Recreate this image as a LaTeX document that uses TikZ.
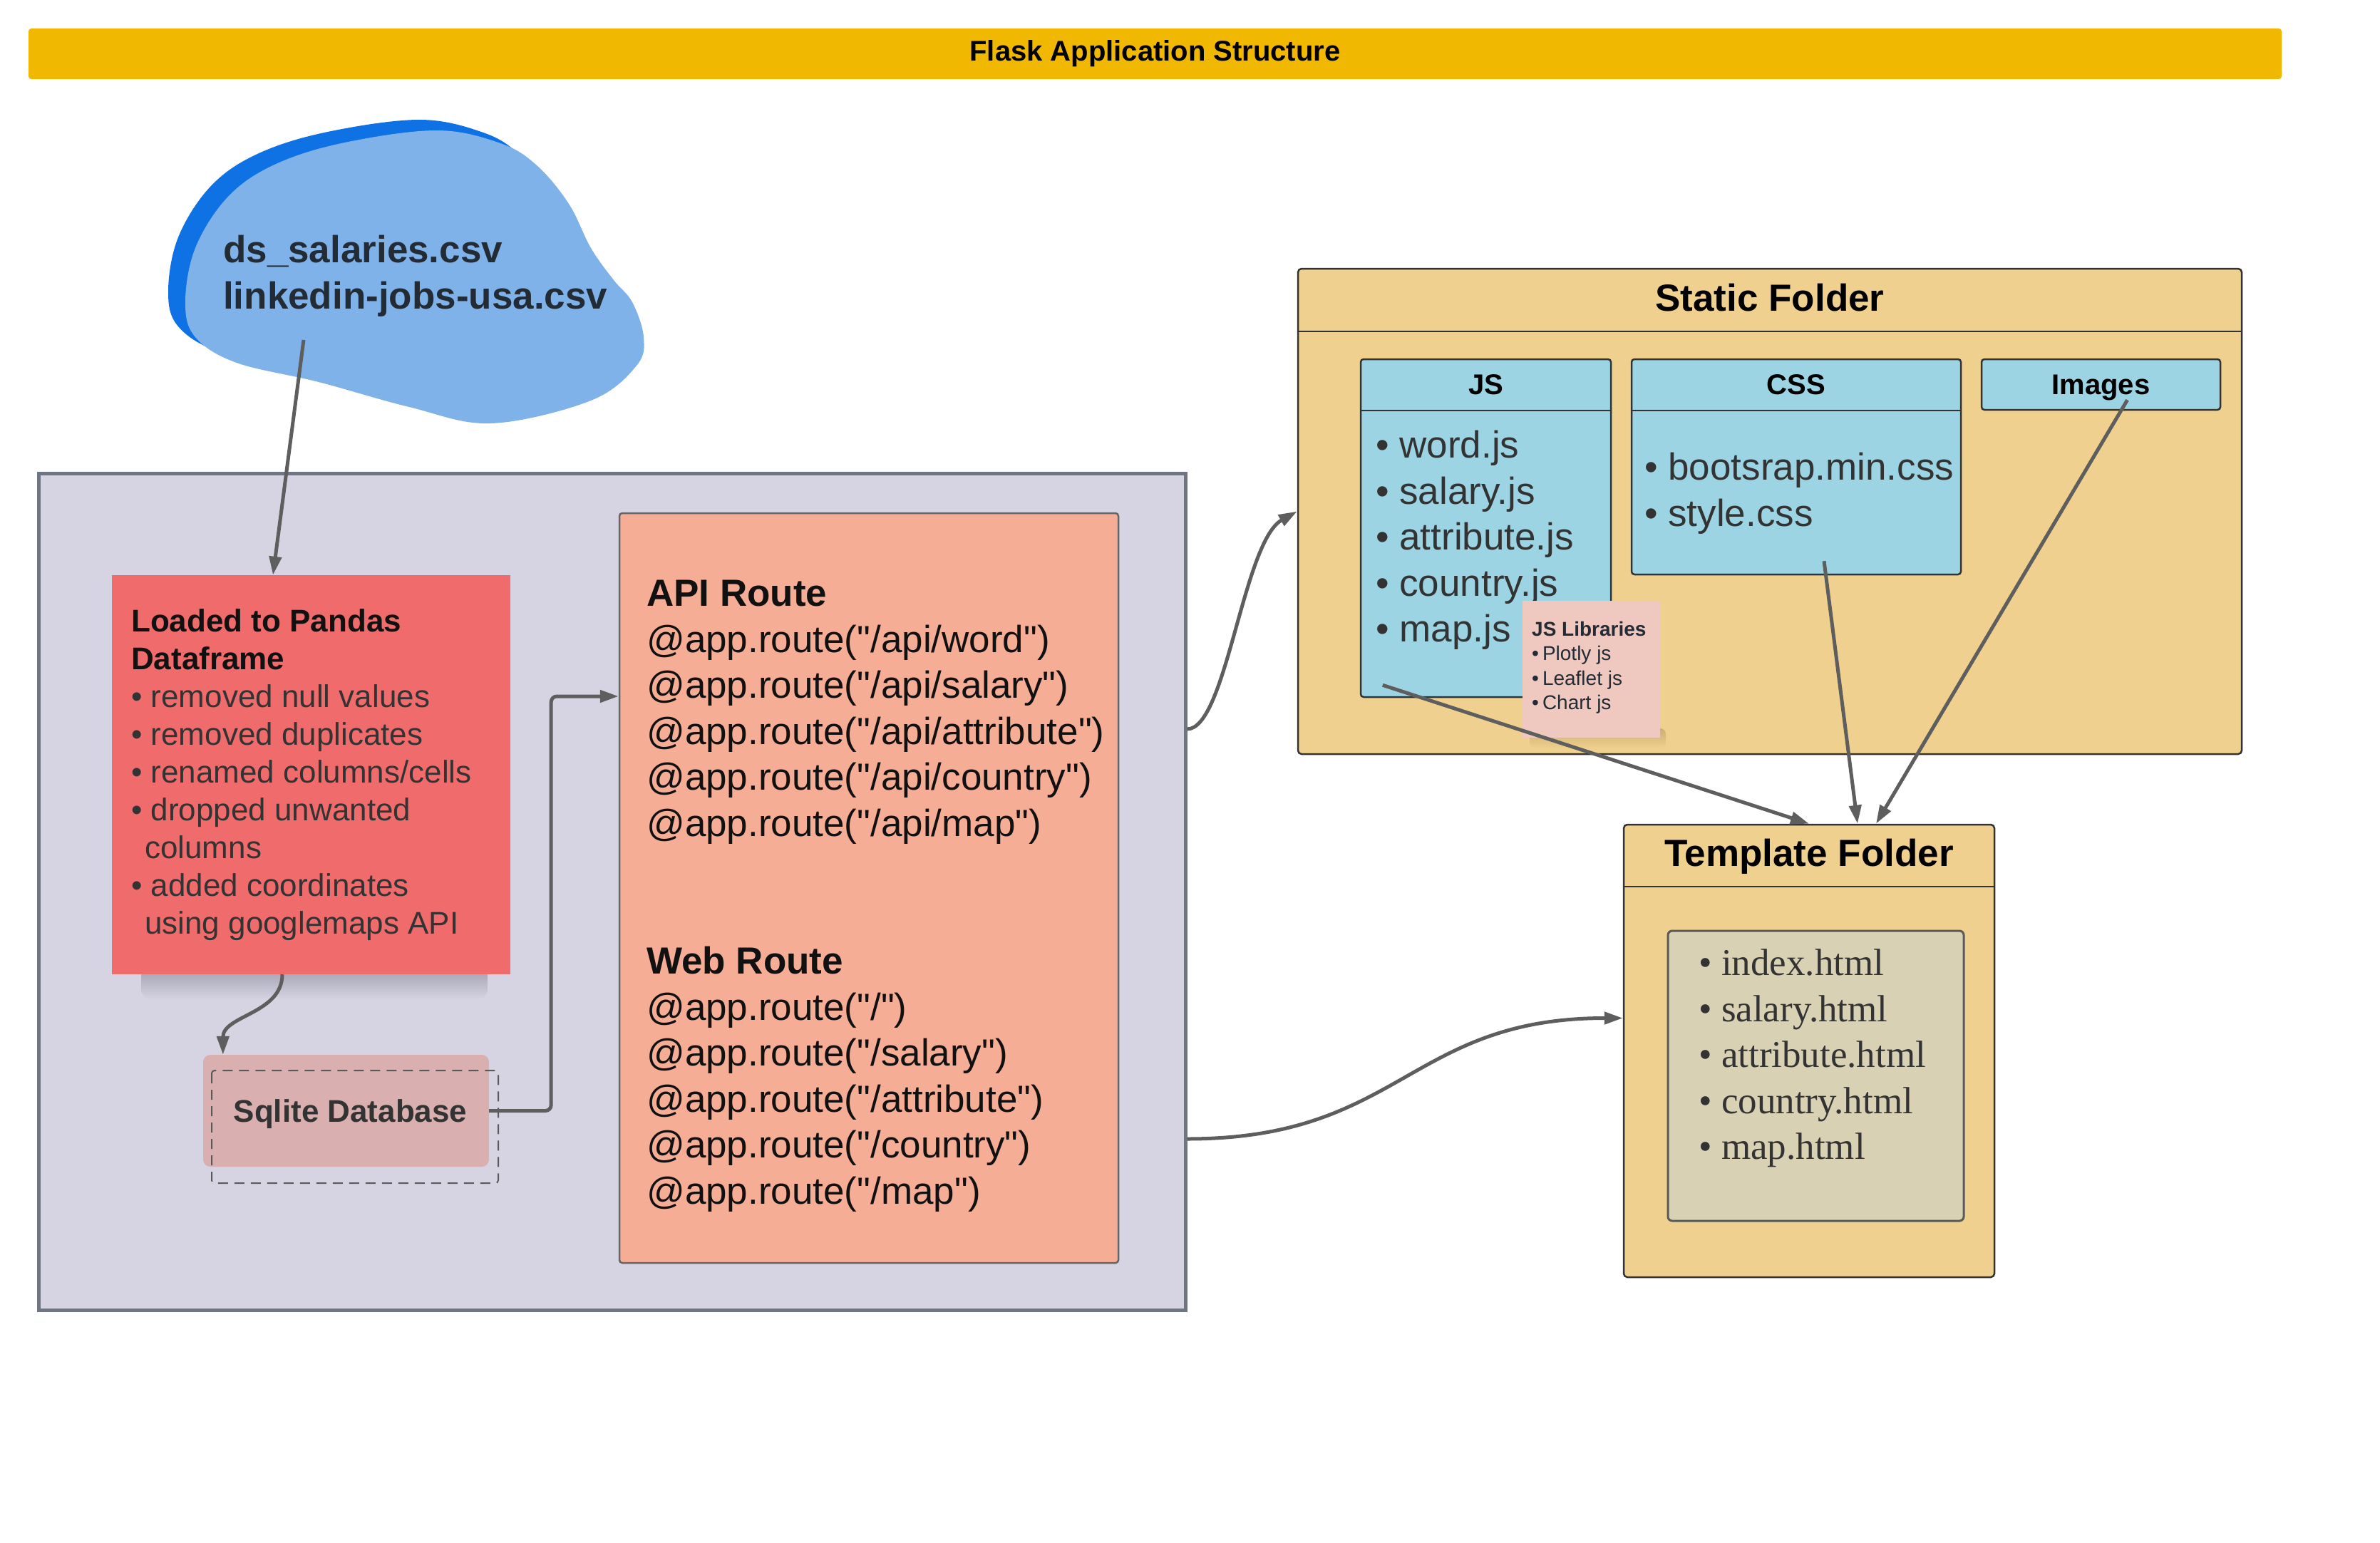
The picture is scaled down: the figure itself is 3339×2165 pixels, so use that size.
\documentclass[tikz,border=0pt]{standalone}
\usepackage{fontspec}
\setmainfont{Liberation Sans}
\newfontfamily\htmlfont{Liberation Serif}
\usetikzlibrary{arrows.meta}

\definecolor{barcol}{HTML}{F0B800}
\definecolor{bloblight}{HTML}{80B2EA}
\definecolor{blobdark}{HTML}{0E72E4}
\definecolor{blobtext}{HTML}{232B35}
\definecolor{appfill}{HTML}{D6D4E3}
\definecolor{appedge}{HTML}{6F7581}
\definecolor{shadowcol}{HTML}{9D9CAB}
\definecolor{pandasfill}{HTML}{F06C6C}
\definecolor{sqlitefill}{HTML}{D9AFB0}
\definecolor{dashcol}{HTML}{5A5A5A}
\definecolor{apifill}{HTML}{F6AD96}
\definecolor{apiedge}{HTML}{666666}
\definecolor{folderfill}{HTML}{EFD08E}
\definecolor{folderedge}{HTML}{333333}
\definecolor{subfill}{HTML}{9CD4E4}
\definecolor{notefill}{HTML}{EFC8BF}
\definecolor{noteshadow}{HTML}{CDAE72}
\definecolor{innerfill}{HTML}{D9D1B4}
\definecolor{inneredge}{HTML}{5A5A5A}
\definecolor{bodytext}{HTML}{333333}
\definecolor{headtext}{HTML}{111111}
\definecolor{conncol}{HTML}{5E5E5E}

\def\fsBig{\fontsize{53}{64.5}\selectfont}
\def\fsMid{\fontsize{44}{53}\selectfont}
\def\fsHead{\fontsize{40}{48}\selectfont}
\def\fsSmall{\fontsize{28}{34.5}\selectfont}
\def\q{\textquotedbl}

\begin{document}
\begin{tikzpicture}[x=1pt, y=-1pt,
    box/.style={inner sep=0pt, anchor=center},
    lbl/.style={inner sep=0pt, anchor=north west, align=left},
    conn/.style={draw=conncol, line width=5pt, -{Triangle[length=26pt,width=17pt]}}]
      \fill[white] (0,0) rectangle (3339,2165);
      \useasboundingbox (0,0) rectangle (3339,2165);

      \node[box, fill=barcol, rounded corners=4pt, minimum width=3161, minimum height=71, font=\fsHead\bfseries] (title) at (1620.5,75.5) {Flask Application Structure};

      \fill[blobdark, shift={(-24,-15)}] plot[smooth cycle, tension=0.6] coordinates {(612,183) (702,201) (753,232) (798,286) (829,348) (861,393) (887,424) (903,473) (893,513) (829,562) (689,594) (574,571) (447,536) (332,509) (274,473) (260,424) (274,348) (319,277) (383,232) (479,201)};
      \fill[bloblight] plot[smooth cycle, tension=0.6] coordinates {(612,183) (702,201) (753,232) (798,286) (829,348) (861,393) (887,424) (903,473) (893,513) (829,562) (689,594) (574,571) (447,536) (332,509) (274,473) (260,424) (274,348) (319,277) (383,232) (479,201)};
      \node[lbl, text=blobtext, font=\fsBig\bfseries] (csv) at (313,330) {ds\_salaries.csv\\linkedin-jobs-usa.csv};
      \coordinate (csvout) at (426,477);

      \node[box, draw=appedge, line width=5pt, fill=appfill, minimum width=1609, minimum height=1174] (app) at (858.5,1251) {};

      \shade[top color=shadowcol, bottom color=appfill, rounded corners=14pt] (198,1355) rectangle (684,1402);
      \node[box, fill=pandasfill, minimum width=559, minimum height=560] (pandas) at (436.5,1087) {};
      \node[lbl, text=bodytext, font=\fsMid] (steps) at (184,854) {\textcolor{headtext}{\textbf{Loaded to Pandas}}\\
        \textcolor{headtext}{\textbf{Dataframe}}\\
        • removed null values\\
        • removed duplicates\\
        • renamed columns/cells\\
        • dropped unwanted\\
        \hspace*{19pt}columns\\
        • added coordinates\\
        \hspace*{19pt}using googlemaps API};

      \node[box, fill=sqlitefill, rounded corners=10pt, minimum width=401, minimum height=157, text=bodytext, text depth=0pt, font=\fsMid\bfseries] (sqlite) at (485.5,1558.5) {\hspace*{12pt}Sqlite Database};
      \draw[dashcol, line width=2pt, dash pattern=on 14pt off 9pt, rounded corners=4pt] (297,1502) rectangle (699,1660);

      \node[box, draw=apiedge, line width=2.5pt, fill=apifill, rounded corners=4pt, minimum width=700, minimum height=1052] (api) at (1219,1246) {};
      \node[lbl, text=headtext, font=\fsBig] (routes) at (907,814) {\textbf{API Route}\\
        @app.route(\q/api/word\q)\\
        @app.route(\q/api/salary\q)\\
        @app.route(\q/api/attribute\q)\\
        @app.route(\q/api/country\q)\\
        @app.route(\q/api/map\q)\\[129pt]
        \textbf{Web Route}\\
        @app.route(\q/\q)\\
        @app.route(\q/salary\q)\\
        @app.route(\q/attribute\q)\\
        @app.route(\q/country\q)\\
        @app.route(\q/map\q)};

      \node[box, draw=folderedge, line width=2.5pt, fill=folderfill, rounded corners=5pt, minimum width=1324, minimum height=681] (static) at (2483,717.5) {};
      \draw[folderedge, line width=2.5pt] (static.west |- 0,465) -- (static.east |- 0,465);
      \node[anchor=base, inner sep=0pt, font=\fsBig\bfseries] (statictitle) at (2483,436) {Static Folder};

      \node[box, draw=folderedge, line width=2.5pt, fill=subfill, rounded corners=4pt, minimum width=351, minimum height=474] (js) at (2084.5,741) {};
      \draw[folderedge, line width=2.5pt] (js.west |- 0,576) -- (js.east |- 0,576);
      \node[anchor=base, inner sep=0pt, font=\fsHead\bfseries] (jstitle) at (2084.5,553) {JS};
      \node[lbl, text=bodytext, font=\fsBig] (jsfiles) at (1930,604) {• word.js\\ • salary.js\\ • attribute.js\\ • country.js\\ • map.js};

      \node[box, draw=folderedge, line width=2.5pt, fill=subfill, rounded corners=4pt, minimum width=462, minimum height=302] (css) at (2520,655) {};
      \draw[folderedge, line width=2.5pt] (css.west |- 0,576) -- (css.east |- 0,576);
      \node[anchor=base, inner sep=0pt, font=\fsHead\bfseries] (csstitle) at (2520,553) {CSS};
      \node[lbl, text=bodytext, font=\fsBig] (cssfiles) at (2307,635) {• bootsrap.min.css\\ • style.css};

      \node[box, draw=folderedge, line width=2.5pt, fill=subfill, rounded corners=4pt, minimum width=335, minimum height=71] (images) at (2947.5,539.5) {};
      \node[anchor=base, inner sep=0pt, font=\fsHead\bfseries] (imagestitle) at (2947.5,553) {Images};

      \shade[top color=noteshadow, bottom color=folderfill, rounded corners=8pt] (2146,1022) rectangle (2337,1050);
      \node[box, fill=notefill, minimum width=193, minimum height=192] (note) at (2232.5,939) {};
      \node[lbl, text=blobtext, font=\fsSmall] (libs) at (2149,872) {\textbf{JS Libraries}\\ •\hspace{5pt}Plotly js\\ •\hspace{5pt}Leaflet js\\ •\hspace{5pt}Chart js};

      \node[box, draw=folderedge, line width=2.5pt, fill=folderfill, rounded corners=5pt, minimum width=520, minimum height=635] (tmpl) at (2538,1474.5) {};
      \draw[folderedge, line width=2.5pt] (tmpl.west |- 0,1244) -- (tmpl.east |- 0,1244);
      \node[anchor=base, inner sep=0pt, font=\fsBig\bfseries] (tmpltitle) at (2538,1215) {Template Folder};
      \node[box, draw=inneredge, line width=3pt, fill=innerfill, rounded corners=6pt, minimum width=415, minimum height=407] (pages) at (2547.5,1509.5) {};
      \node[lbl, text=bodytext, font=\htmlfont\fsBig] (pagelist) at (2383,1332) {• index.html\\ • salary.html\\ • attribute.html\\ • country.html\\ • map.html};

      \draw[conn] (csvout) -- ([xshift=-53.5pt]pandas.north);
      \draw[conn] ([xshift=-40.5pt]pandas.south) .. controls +(0,55) and +(0,-55) .. ([xshift=28pt]sqlite.north west);
      \draw[conn, rounded corners=8pt] (sqlite.east) -- ++(87,0) |- ([yshift=269pt]api.west);
      \draw[conn] ([yshift=228pt]app.east) .. controls +(55,0) and +(-76,43) .. (static.west);
      \draw[conn] ([yshift=-347pt]app.east) .. controls +(300,0) and +(-300,0) .. ([yshift=46pt]tmpl.west);
      \draw[conn] ([xshift=32pt,yshift=18pt]js.south west) -- (tmpl.north);
      \draw[conn] ([xshift=39pt,yshift=20pt]css.south) -- ([xshift=68pt]tmpl.north);
      \draw[conn] ([xshift=37pt,yshift=15pt]images.south) -- ([xshift=94pt]tmpl.north);
    \end{tikzpicture}
\end{document}
